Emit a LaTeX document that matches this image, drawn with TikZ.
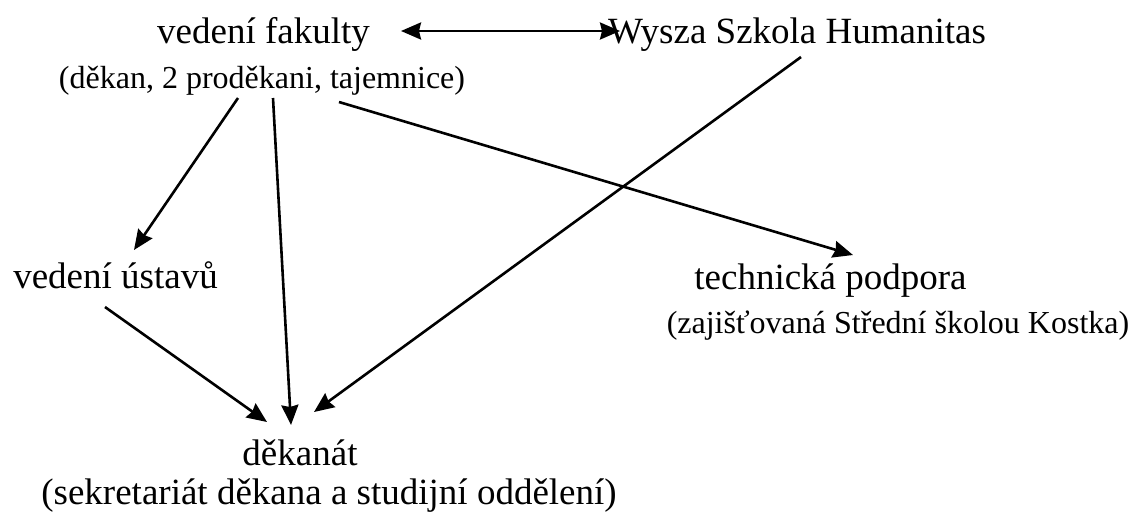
\documentclass[tikz,border=0pt]{standalone}
\usepackage{fontspec}
\setmainfont{Liberation Serif}
\usetikzlibrary{arrows.meta}

\begin{document}
\begin{tikzpicture}[x=0.5pt,y=0.5pt,
		lbl/.style={inner sep=0pt,anchor=base,font=\fontsize{18.5}{22}\selectfont},
		sublbl/.style={inner sep=0pt,anchor=base,font=\fontsize{16}{19}\selectfont},
		arr/.style={line width=1.3pt,>={Stealth[length=10pt,width=8.5pt,inset=1pt]}}]
		\useasboundingbox (0,0) rectangle (1132,-515);
		% labels
		\node [lbl] (fak) at (263.5,-43) {vedení fakulty};
		\node [sublbl] (fakdet) at (262,-88) {(děkan, 2 proděkani, tajemnice)};
		\node [lbl] (wsh) at (797,-43) {Wysza Szkola Humanitas};
		\node [lbl] (ust) at (115.5,-288) {vedení ústavů};
		\node [lbl] (tech) at (830.5,-289) {technická podpora};
		\node [sublbl] (techdet) at (898,-333) {(zajišťovaná Střední školou Kostka)};
		\node [lbl] (dek) at (300,-465) {děkanát};
		\node [lbl] (dekdet) at (329,-504) {(sekretariát děkana a studijní oddělení)};
		% links
		\draw [arr,<->] ([shift={(137.5,12)}]fak.base) -- ([shift={(-177,12)}]wsh.base);
		\draw [arr,->] ([shift={(-24,-10)}]fakdet.base) -- ([shift={(18.5,38)}]ust.base);
		\draw [arr,->] ([shift={(11,-10)}]fakdet.base) -- ([shift={(-9,40)}]dek.base);
		\draw [arr,->] ([shift={(77,-14)}]fakdet.base) -- ([shift={(22.5,34)}]tech.base);
		\draw [arr,->] ([shift={(4,-14)}]wsh.base) -- ([shift={(14,53)}]dek.base);
		\draw [arr,->] ([shift={(-10.5,-19)}]ust.base) -- ([shift={(-33,43)}]dek.base);
\end{tikzpicture}
\end{document}
